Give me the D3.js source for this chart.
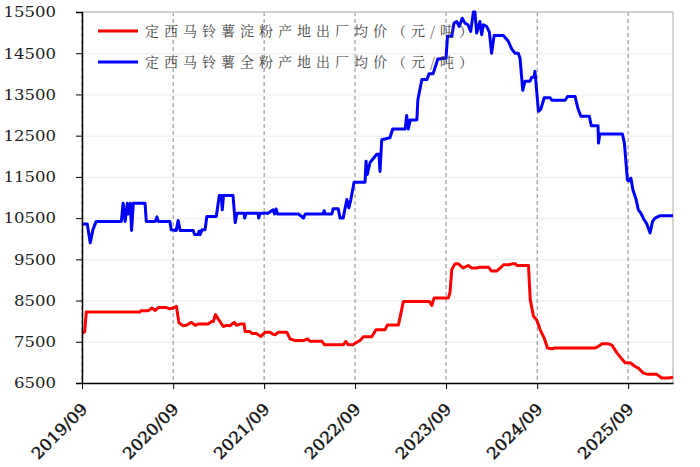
<!DOCTYPE html>
<html>
<head>
<meta charset="utf-8">
<script src="https://cdn.jsdelivr.net/npm/d3@7"></script>
<style>
  body { margin: 0; background: #fff; }
  .axis path, .axis line { stroke: #000; }
  .grid line { stroke: #ececec; }
  .grid path { stroke: none; }
</style>
</head>
<body>
<div id="chart"></div>
<script>
// series data (元/吨)
let starchDates = ["2019-09-01","2019-09-12","2019-09-18","2020-04-20","2020-04-24","2020-05-23","2020-06-08","2020-06-21","2020-07-03","2020-08-05","2020-08-19","2020-09-01","2020-09-14","2020-09-24","2020-10-11","2020-10-24","2020-11-13","2020-11-28","2020-12-10","2021-01-19","2021-02-02","2021-02-09","2021-02-18","2021-03-01","2021-03-21","2021-04-03","2021-04-17","2021-05-04","2021-05-13","2021-05-27","2021-06-13","2021-06-16","2021-07-06","2021-07-14","2021-08-01","2021-08-19","2021-09-04","2021-09-24","2021-10-07","2021-10-15","2021-10-28","2021-12-01","2021-12-14","2022-01-03","2022-02-06","2022-02-22","2022-03-05","2022-04-21","2022-05-01","2022-07-16","2022-07-26","2022-08-04","2022-08-25","2022-09-05","2022-09-21","2022-10-04","2022-11-07","2022-11-24","2022-12-30","2023-01-09","2023-02-22","2023-03-14","2023-06-26","2023-07-06","2023-07-15","2023-09-10","2023-09-17","2023-09-24","2023-10-07","2023-10-20","2023-11-09","2023-11-29","2023-12-13","2024-01-02","2024-01-15","2024-02-18","2024-03-01","2024-03-23","2024-04-06","2024-04-19","2024-05-09","2024-05-23","2024-06-05","2024-06-12","2024-07-28","2024-08-04","2024-08-17","2024-08-30","2024-09-13","2024-09-29","2024-10-12","2024-10-30","2024-11-12","2025-04-22","2025-05-05","2025-05-19","2025-06-14","2025-06-28","2025-07-18","2025-08-07","2025-08-20","2025-09-09","2025-09-29","2025-10-12","2025-11-01","2025-11-20","2025-12-25","2026-01-14","2026-02-10","2026-02-28"];
let starchPrices = [7700,7750,8220,8220,8250,8250,8320,8260,8330,8330,8300,8320,8360,7960,7890,7900,7970,7900,7930,7930,7990,7990,8160,8050,7870,7900,7890,7970,7900,7930,7930,7750,7750,7700,7700,7630,7730,7730,7680,7670,7730,7730,7570,7530,7530,7570,7510,7510,7430,7430,7510,7430,7430,7480,7530,7620,7620,7790,7790,7910,7910,8480,8480,8380,8560,8560,8700,9250,9390,9390,9290,9350,9290,9290,9310,9310,9220,9220,9290,9370,9370,9390,9390,9350,9350,8520,8120,8030,7790,7590,7350,7330,7350,7350,7390,7450,7450,7420,7230,7080,6990,6990,6900,6860,6740,6710,6710,6620,6620,6640];

let flourDates = ["2019-09-01","2019-09-22","2019-10-04","2019-10-15","2019-10-28","2020-02-06","2020-02-13","2020-02-21","2020-03-01","2020-03-05","2020-03-13","2020-03-18","2020-03-25","2020-05-11","2020-05-16","2020-06-21","2020-06-28","2020-07-03","2020-08-19","2020-08-24","2020-09-13","2020-09-21","2020-09-29","2020-11-20","2020-11-26","2020-12-10","2020-12-14","2020-12-18","2020-12-26","2021-01-07","2021-01-14","2021-02-21","2021-03-05","2021-03-13","2021-03-17","2021-03-22","2021-04-29","2021-05-08","2021-05-15","2021-06-13","2021-06-15","2021-06-21","2021-08-08","2021-08-10","2021-08-16","2021-09-17","2021-10-07","2021-10-13","2021-10-19","2021-10-25","2022-01-17","2022-02-06","2022-02-13","2022-04-26","2022-04-30","2022-05-04","2022-05-31","2022-06-05","2022-06-25","2022-07-03","2022-07-15","2022-07-30","2022-08-07","2022-08-15","2022-08-28","2022-10-11","2022-10-15","2022-10-20","2022-10-31","2022-11-27","2022-12-06","2022-12-10","2022-12-17","2023-01-19","2023-01-30","2023-03-21","2023-03-27","2023-04-03","2023-04-10","2023-05-07","2023-05-11","2023-05-27","2023-06-16","2023-06-25","2023-07-11","2023-07-30","2023-09-01","2023-09-07","2023-09-24","2023-10-03","2023-10-14","2023-10-24","2023-11-05","2023-11-16","2023-11-28","2023-12-09","2023-12-20","2023-12-26","2024-01-02","2024-01-15","2024-01-22","2024-01-29","2024-02-11","2024-02-22","2024-03-02","2024-03-12","2024-04-18","2024-05-08","2024-05-22","2024-06-04","2024-06-17","2024-06-24","2024-07-05","2024-07-14","2024-08-03","2024-08-10","2024-08-19","2024-08-23","2024-09-06","2024-09-16","2024-09-29","2024-10-23","2024-10-30","2024-12-22","2025-01-01","2025-01-31","2025-02-11","2025-02-23","2025-03-29","2025-04-06","2025-05-03","2025-05-05","2025-05-10","2025-08-09","2025-08-17","2025-08-29","2025-09-02","2025-09-12","2025-09-20","2025-10-03","2025-10-12","2025-10-22","2025-11-04","2025-11-15","2025-11-28","2025-12-08","2025-12-18","2026-01-07","2026-02-28"];
let flourPrices = [10360,10360,9900,10220,10420,10420,10860,10420,10860,10600,10860,10200,10860,10860,10420,10420,10530,10420,10420,10220,10200,10440,10200,10200,10100,10100,10180,10100,10220,10220,10540,10540,11050,11050,10700,11050,11050,10390,10620,10620,10500,10620,10620,10500,10620,10620,10700,10600,10720,10600,10600,10500,10600,10600,10680,10600,10600,10730,10730,10500,10500,10950,10750,10950,11370,11370,11880,11560,11850,12050,12050,11630,12400,12450,12660,12660,12990,12660,12880,12880,13370,13860,13860,14000,14000,14360,14380,14910,14910,15230,15270,15150,15350,15230,15190,15030,15500,15500,14990,15270,14950,15190,15150,15010,14500,14930,14930,14790,14600,14500,14500,14380,13600,13820,13820,13920,13920,14060,13090,13150,13420,13420,13360,13360,13450,13450,13170,12970,12970,12740,12740,12320,12540,12540,12320,11430,11400,11470,11190,10950,10700,10620,10460,10360,10140,10420,10500,10560,10560];

let yTickValues = [6500,7500,8500,9500,10500,11500,12500,13500,14500,15500];
let xTickDates = ["2019-09-01","2020-09-01","2021-09-01","2022-09-01","2023-09-01","2024-09-01","2025-09-01"];
let seriesNames = ["定西马铃薯淀粉产地出厂均价（元/吨）","定西马铃薯全粉产地出厂均价（元/吨）"];
let seriesColors = ["#ff0000","#0000ff"];

//defining svg properties
let svgWidth = 700;
let svgHeight = 467;
let margin = { top: 12, right: 27, bottom: 84, left: 82 };
let width = svgWidth - margin.left - margin.right;
let height = svgHeight - margin.top - margin.bottom;

let parseDate = d3.timeParse("%Y-%m-%d");

let svg = d3.select("#chart")
  .append("svg")
  .attr("width", svgWidth)
  .attr("height", svgHeight);

let chartGroup = svg.append("g")
  .attr("transform", `translate(${margin.left}, ${margin.top})`);

//scales
let xTimeScale = d3.scaleTime()
  .domain([parseDate("2019-09-01"), parseDate("2026-02-28")])
  .range([0, width]);
let yLinearScale = d3.scaleLinear()
  .domain([6500, 15500])
  .range([height, 0]);

//horizontal grid
chartGroup.append("g")
  .classed("grid", true)
  .call(d3.axisLeft(yLinearScale).tickValues(yTickValues).tickSize(-width).tickFormat(""));

//vertical dashed lines at each september
chartGroup.selectAll(".vline")
  .data(xTickDates.map(parseDate))
  .enter()
  .append("line")
  .attr("x1", d => xTimeScale(d))
  .attr("x2", d => xTimeScale(d))
  .attr("y1", 0)
  .attr("y2", height)
  .attr("stroke", "#8a8a8a")
  .attr("stroke-dasharray", "4,3");

//top and right frame
chartGroup.append("line")
  .attr("x1", 0).attr("x2", width).attr("y1", 0).attr("y2", 0)
  .attr("stroke", "#c4c4c4").attr("stroke-width", 1.5);
chartGroup.append("line")
  .attr("x1", width).attr("x2", width).attr("y1", 0).attr("y2", height)
  .attr("stroke", "#c4c4c4").attr("stroke-width", 1.5);

//lines
let line = d3.line()
  .x(d => xTimeScale(d.date))
  .y(d => yLinearScale(d.value));

let starchData = starchDates.map((d, i) => ({ date: parseDate(d), value: starchPrices[i] }));
let flourData = flourDates.map((d, i) => ({ date: parseDate(d), value: flourPrices[i] }));

chartGroup.append("path")
  .datum(starchData)
  .attr("d", line)
  .attr("fill", "none")
  .attr("stroke", seriesColors[0])
  .attr("stroke-width", 3)
  .attr("stroke-linejoin", "round");

chartGroup.append("path")
  .datum(flourData)
  .attr("d", line)
  .attr("fill", "none")
  .attr("stroke", seriesColors[1])
  .attr("stroke-width", 3)
  .attr("stroke-linejoin", "round");

//axes
let leftAxis = d3.axisLeft(yLinearScale)
  .tickValues(yTickValues)
  .tickSize(6)
  .tickPadding(20)
  .tickFormat(d3.format("d"));
chartGroup.append("g")
  .classed("axis", true)
  .call(leftAxis)
  .call(g => g.select(".domain").attr("stroke-width", 1.5))
  .selectAll("text")
  .attr("font-family", "'DejaVu Serif', serif")
  .attr("font-size", "15px")
  .attr("fill", "#222")
  // wide digits like the original font
  .attr("textLength", d => String(d).length * 10.5)
  .attr("lengthAdjust", "spacingAndGlyphs");

let bottomAxis = d3.axisBottom(xTimeScale)
  .tickValues(xTickDates.map(parseDate))
  .tickSize(6)
  .tickSizeOuter(0)
  .tickFormat(d3.timeFormat("%Y/%m"));
chartGroup.append("g")
  .classed("axis", true)
  .attr("transform", `translate(0,${height})`)
  .call(bottomAxis)
  .call(g => g.select(".domain").attr("stroke-width", 1.5))
  .selectAll("text")
  .attr("font-family", "'DejaVu Serif', serif")
  .attr("font-size", "16px")
  .attr("fill", "#111")
  .attr("stroke", "#111")
  .attr("stroke-width", 0.4)
  .attr("text-anchor", "end")
  .attr("dy", null)
  .attr("y", null)
  .attr("textLength", 71)
  .attr("lengthAdjust", "spacingAndGlyphs")
  .attr("transform", "translate(6,27) rotate(-45)");

//legend
let legend = chartGroup.append("g");
seriesNames.forEach((name, i) => {
  let ly = 19 + i * 31;
  legend.append("line")
    .attr("x1", 16).attr("x2", 56)
    .attr("y1", ly).attr("y2", ly)
    .attr("stroke", seriesColors[i])
    .attr("stroke-width", 3);
  legend.append("text")
    .attr("x", 63)
    .attr("y", ly)
    .attr("dy", "0.35em")
    .attr("font-family", "'Noto Serif CJK SC', 'Noto Sans CJK SC', serif")
    .attr("font-size", "14px")
    .attr("letter-spacing", "5px")
    .attr("fill", "#444")
    .text(name);
});
</script>
</body>
</html>
